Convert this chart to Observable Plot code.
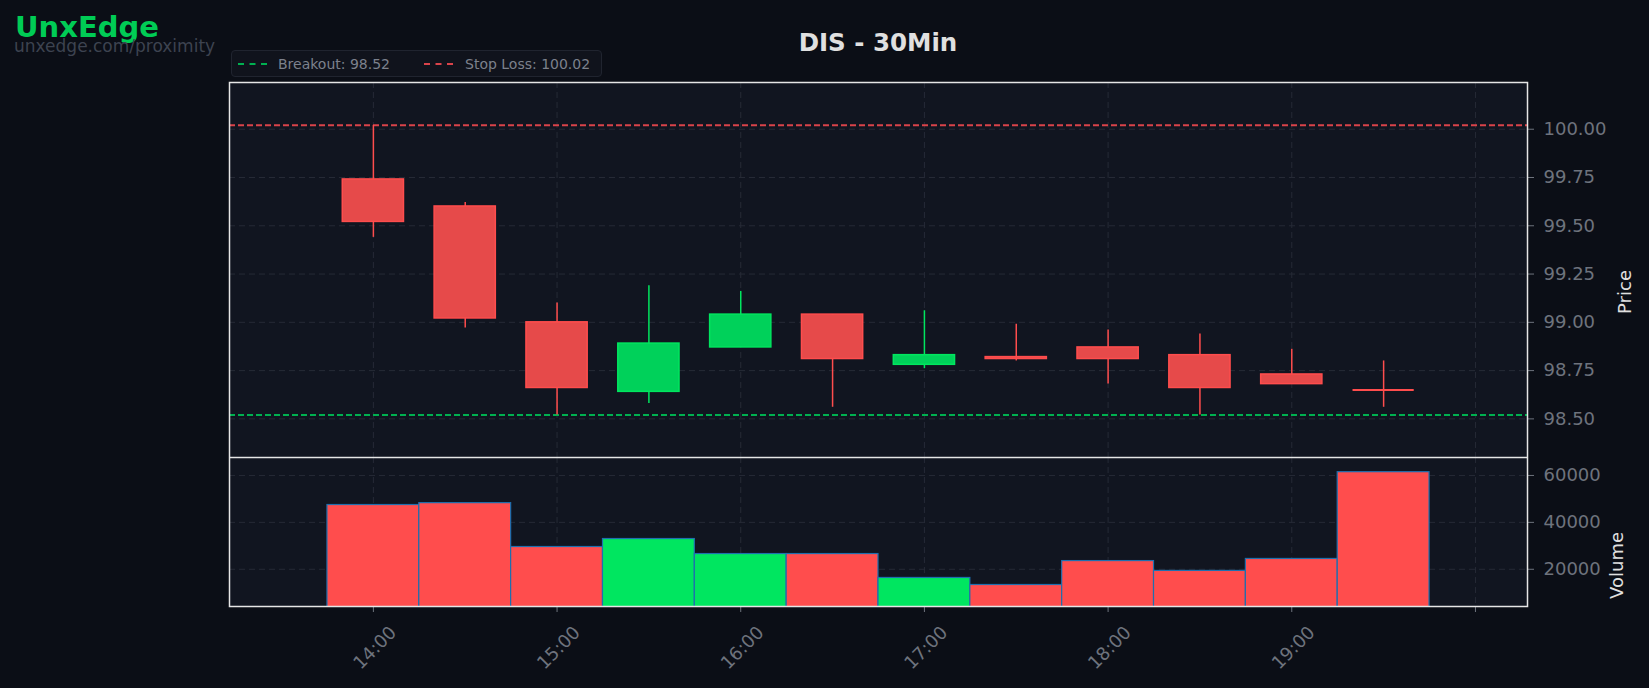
<!DOCTYPE html>
<html>
<head>
<meta charset="utf-8">
<script src="https://cdn.jsdelivr.net/npm/d3@7"></script>
<script src="https://cdn.jsdelivr.net/npm/@observablehq/plot@0.6"></script>
<style>
  html, body { margin: 0; padding: 0; background: #0b0e16; }
  #wrap { position: relative; width: 1649px; height: 688px; background: #0b0e16; overflow: hidden; font-family: "DejaVu Sans", sans-serif; }
  #wrap svg { position: absolute; left: 0; }
  .logo { position: absolute; left: 15px; top: 16px; font-size: 29px; font-weight: bold; color: #00cc55; line-height: 0.8; }
  .sub { position: absolute; left: 14px; top: 40px; font-size: 17px; color: #3d4350; line-height: 0.8; }
  .title { position: absolute; left: 229px; width: 1298px; top: 31px; text-align: center; font-size: 24.5px; font-weight: bold; color: #e0e0e0; line-height: 1; }
  .legend { position: absolute; left: 231px; top: 50px; width: 371px; height: 27px; box-sizing: border-box; border: 1px solid #20242f; border-radius: 4px; background: #10131c; font-size: 14px; color: #7c818c; }
  .legend .item { position: absolute; top: 6px; line-height: 1; }
  .legend .swatch { position: absolute; top: 12px; width: 29px; height: 0; border-top: 2px dashed; }
</style>
</head>
<body>
<div id="wrap">
  <div class="logo">UnxEdge</div>
  <div class="sub">unxedge.com/proximity</div>
  <div class="title">DIS - 30Min</div>
  <div class="legend">
    <div class="swatch" style="left:6px;border-color:#00b050"></div>
    <div class="item" style="left:46px">Breakout: 98.52</div>
    <div class="swatch" style="left:192px;border-color:#d9434a"></div>
    <div class="item" style="left:233px">Stop Loss: 100.02</div>
  </div>
</div>
<script>
// ---- data ----
const times  = ["14:00","14:30","15:00","15:30","16:00","16:30","17:00","17:30","18:00","18:30","19:00","19:30"];
const open   = [99.74, 99.60, 99.00, 98.64, 98.87, 99.04, 98.78, 98.82, 98.87, 98.83, 98.73, 98.65];
const close  = [99.52, 99.02, 98.66, 98.89, 99.04, 98.81, 98.83, 98.81, 98.81, 98.66, 98.68, 98.65];
const high   = [100.02, 99.62, 99.10, 99.19, 99.16, 99.04, 99.06, 98.99, 98.96, 98.94, 98.86, 98.80];
const low    = [99.44, 98.97, 98.52, 98.58, 98.87, 98.56, 98.76, 98.80, 98.68, 98.52, 98.68, 98.56];
const volume = [47400, 48200, 29500, 32900, 26500, 26500, 16300, 13300, 23500, 19300, 24400, 61400];
const breakout = 98.52;
const stopLoss = 100.02;
const priceTicks = [98.5, 98.75, 99.0, 99.25, 99.5, 99.75, 100.0];
const volumeTicks = [20000, 40000, 60000];
const hourTicks = ["14:00","15:00","16:00","17:00","18:00","19:00","20:00"];
const labeledHours = ["14:00","15:00","16:00","17:00","18:00","19:00"];
const xRange = ["13:13","20:17"];
const priceDomain = [98.30, 100.242];
const volumeDomain = [4130, 67660];
const candleMinutes = 20;
const barMinutes = 30;

// ---- build ----
const day = "2024-01-02T";
const toDate = s => new Date(day + s + ":00Z");
const MIN = 60000;
const rows = times.map((t, i) => ({
  t: toDate(t), open: open[i], close: close[i], high: high[i], low: low[i], volume: volume[i],
  up: close[i] > open[i]
}));
const RED_FILL = "#e64a4a", RED_EDGE = "#ff4d4d", GREEN_FILL = "#00d15a", GREEN_EDGE = "#00e65f";
const VOL_RED = "#ff4d4d", VOL_GREEN = "#00e660";
const GRID = "#262a36", AXIS_TXT = "#6e737d", FRAME = "#e6e6e6", PANEL = "#111520";
const xDomain = xRange.map(toDate);
const hours = hourTicks.map(toDate);
const labelHours = labeledHours.map(toDate);
const fmtHour = d3.utcFormat("%H:%M");
const bodyX1 = d => new Date(+d.t - candleMinutes / 2 * MIN);
const bodyX2 = d => new Date(+d.t + candleMinutes / 2 * MIN);

const W = 1649, LEFT = 229, RIGHT = 122;
const PRICE_TOP = 82, PANEL_SPLIT = 457, VOL_BOTTOM = 606;

const price = Plot.plot({
  width: W, height: PANEL_SPLIT,
  marginLeft: LEFT, marginRight: RIGHT, marginTop: PRICE_TOP, marginBottom: 0,
  style: { background: "transparent", color: AXIS_TXT, fontFamily: "DejaVu Sans, sans-serif" },
  x: { type: "utc", domain: xDomain, axis: null },
  y: { domain: priceDomain, axis: null },
  marks: [
    Plot.frame({ fill: PANEL }),
    Plot.gridY(priceTicks, { stroke: GRID, strokeOpacity: 1, strokeDasharray: "6,4" }),
    Plot.gridX(hours, { stroke: GRID, strokeOpacity: 1, strokeDasharray: "6,4" }),
    Plot.ruleY([stopLoss], { stroke: "#d9434a", strokeWidth: 2, strokeDasharray: "6,3" }),
    Plot.ruleY([breakout], { stroke: "#00b050", strokeWidth: 2, strokeDasharray: "6,3" }),
    Plot.ruleX(rows, { x: "t", y1: "low", y2: "high", stroke: d => d.up ? GREEN_EDGE : RED_EDGE, strokeWidth: 1.5 }),
    Plot.rect(rows, {
      x1: bodyX1, x2: bodyX2, y1: "open", y2: "close",
      fill: d => d.up ? GREEN_FILL : RED_FILL, stroke: d => d.up ? GREEN_EDGE : RED_EDGE, strokeWidth: 1.5
    }),
    Plot.ruleY(rows.filter(d => d.open === d.close), {
      y: "close", x1: bodyX1, x2: bodyX2,
      stroke: d => d.up ? GREEN_EDGE : RED_EDGE, strokeWidth: 2
    }),
    Plot.axisY(priceTicks, { anchor: "right", tickSize: 6, tickPadding: 10, fontSize: 18, tickFormat: d => d.toFixed(2), label: null, stroke: AXIS_TXT }),
    Plot.text(["Price"], { frameAnchor: "right", dx: 98, rotate: -90, fontSize: 18, fill: "#e0e0e0" }),
    Plot.frame({ stroke: FRAME, strokeWidth: 1.5 })
  ]
});
price.style.top = "0px";

const vol = Plot.plot({
  width: W, height: 688 - PANEL_SPLIT,
  marginLeft: LEFT, marginRight: RIGHT, marginTop: 0, marginBottom: 688 - VOL_BOTTOM,
  style: { background: "transparent", color: AXIS_TXT, fontFamily: "DejaVu Sans, sans-serif" },
  x: { type: "utc", domain: xDomain },
  y: { domain: volumeDomain },
  marks: [
    Plot.frame({ fill: PANEL }),
    Plot.gridY(volumeTicks, { stroke: GRID, strokeOpacity: 1, strokeDasharray: "6,4" }),
    Plot.gridX(hours, { stroke: GRID, strokeOpacity: 1, strokeDasharray: "6,4" }),
    Plot.rectY(rows, {
      x1: d => new Date(+d.t - barMinutes / 2 * MIN), x2: d => new Date(+d.t + barMinutes / 2 * MIN),
      y: "volume", fill: d => d.up ? VOL_GREEN : VOL_RED, stroke: "#1f6fae", strokeWidth: 1.2, clip: true
    }),
    Plot.axisY(volumeTicks, { anchor: "right", tickSize: 6, tickPadding: 10, fontSize: 18, tickFormat: d => String(d), label: null, stroke: AXIS_TXT }),
    Plot.axisX(hours, { anchor: "bottom", tickSize: 6, tickFormat: () => "", label: null, stroke: AXIS_TXT }),
    Plot.axisX(labelHours, { anchor: "bottom", tickSize: 0, tickPadding: 12, tickRotate: -45, fontSize: 18, tickFormat: fmtHour, label: null, dx: 20, dy: 11 }),
    Plot.text(["Volume"], { frameAnchor: "right", dx: 90, rotate: -90, fontSize: 18, fill: "#e0e0e0" }),
    Plot.frame({ stroke: FRAME, strokeWidth: 1.5 })
  ]
});
vol.style.top = PANEL_SPLIT + "px";

const wrap = document.getElementById("wrap");
wrap.insertBefore(price, wrap.firstChild);
wrap.insertBefore(vol, wrap.firstChild);
</script>
</body>
</html>
